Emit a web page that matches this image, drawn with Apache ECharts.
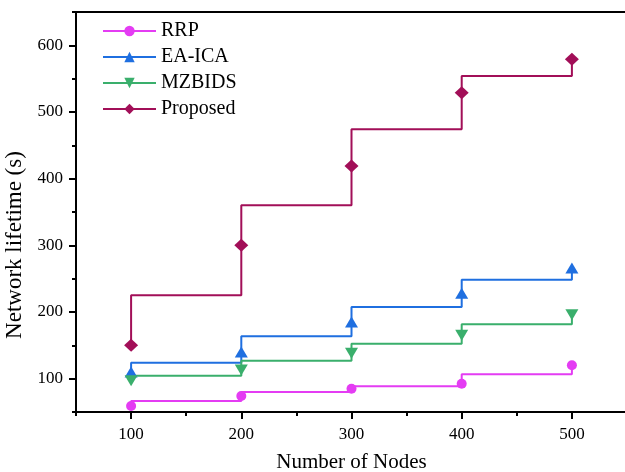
<!DOCTYPE html>
<html>
<head>
<meta charset="utf-8">
<script src="https://cdn.jsdelivr.net/npm/echarts@6/dist/echarts.min.js"></script>
<style>
  html, body { margin: 0; padding: 0; background: #fff; }
  #chart { width: 625px; height: 472px; }
</style>
</head>
<body>
<div id="chart"></div>
<script>
const nodes = [100, 200, 300, 400, 500]

// marker values at each node count
const rrp = [59, 74, 85, 92.5, 120]
const eaIca = [110, 140, 185, 228, 266]
const mzbids = [97, 113, 138, 165, 196]
const proposed = [150, 300, 419, 529, 579]

// level of the step line between two node counts
const rrpStep = [66.5, 80, 88.5, 106.5]
const eaIcaStep = [124, 163.5, 207.5, 248.5]
const mzbidsStep = [104.5, 127, 152.5, 181.5]
const proposedStep = [225, 360, 474, 554]

const xTicks = [100, 200, 300, 400, 500]
const yTicks = [100, 200, 300, 400, 500, 600]

const font = 'Liberation Serif'

// walk the step path, markers only on the real data points
function stepPath(marks, levels) {
  const out = [{ value: [nodes[0], marks[0]] }]
  for (let i = 0; i < levels.length; i++) {
    out.push({ value: [nodes[i], levels[i]], symbol: 'none' })
    out.push({ value: [nodes[i + 1], levels[i]], symbol: 'none' })
    out.push({ value: [nodes[i + 1], marks[i + 1]] })
  }
  return out
}

function makeSeries(name, color, symbol, size, rotate, marks, levels) {
  return {
    name: name,
    type: 'line',
    data: stepPath(marks, levels),
    symbol: symbol,
    symbolSize: size,
    symbolRotate: rotate,
    showAllSymbol: true,
    color: color,
    lineStyle: { width: 2, color: color },
    itemStyle: { color: color },
    emphasis: { disabled: true },
    animation: false
  }
}

const chart = echarts.init(document.getElementById('chart'))
chart.setOption({
  backgroundColor: '#fff',
  grid: {
    left: 76, top: 12, right: -2, bottom: 60,
    outerBoundsMode: 'none',
    show: true, borderColor: '#000', borderWidth: 2
  },
  legend: {
    orient: 'vertical',
    left: 97,
    top: 16,
    itemWidth: 53,
    itemHeight: 13,
    itemGap: 6,
    textStyle: { fontFamily: font, fontSize: 20, color: '#000' },
    data: ['RRP', 'EA-ICA', 'MZBIDS', 'Proposed']
  },
  xAxis: [{
    type: 'value',
    min: 50,
    max: 550,
    name: 'Number of Nodes',
    nameLocation: 'middle',
    nameGap: 40,
    nameTextStyle: { fontFamily: font, fontSize: 21, color: '#000' },
    axisLine: { lineStyle: { color: '#000', width: 2 } },
    axisTick: { customValues: xTicks, length: 7, lineStyle: { color: '#000', width: 2 } },
    axisLabel: { customValues: xTicks, fontFamily: font, fontSize: 17, color: '#000', margin: 14 },
    splitLine: { show: false }
  }, {
    // minor ticks
    type: 'value',
    min: 50,
    max: 550,
    interval: 50,
    position: 'bottom',
    axisLine: { show: false },
    axisTick: { length: 4, lineStyle: { color: '#000', width: 2 } },
    axisLabel: { show: false },
    splitLine: { show: false }
  }],
  yAxis: [{
    type: 'value',
    min: 50,
    max: 650,
    name: 'Network lifetime (s)',
    nameLocation: 'middle',
    nameGap: 46,
    nameTextStyle: { fontFamily: font, fontSize: 23, color: '#000', padding: [0, 0, 0, -66] },
    axisLine: { show: true, lineStyle: { color: '#000', width: 2 } },
    axisTick: { show: true, customValues: yTicks, length: 7, lineStyle: { color: '#000', width: 2 } },
    axisLabel: { customValues: yTicks, fontFamily: font, fontSize: 17, color: '#000', margin: 13 },
    splitLine: { show: false }
  }, {
    type: 'value',
    min: 50,
    max: 650,
    interval: 50,
    position: 'left',
    axisLine: { show: false },
    axisTick: { show: true, length: 4, lineStyle: { color: '#000', width: 2 } },
    axisLabel: { show: false },
    splitLine: { show: false }
  }],
  series: [
    makeSeries('RRP', '#e43cf3', 'circle', 10, 0, rrp, rrpStep),
    makeSeries('EA-ICA', '#1f6fe0', 'triangle', [13, 11], 0, eaIca, eaIcaStep),
    makeSeries('MZBIDS', '#3aaf6c', 'triangle', [13, 11], 180, mzbids, mzbidsStep),
    makeSeries('Proposed', '#a20f58', 'diamond', [14, 13], 0, proposed, proposedStep)
  ]
})
</script>
</body>
</html>
